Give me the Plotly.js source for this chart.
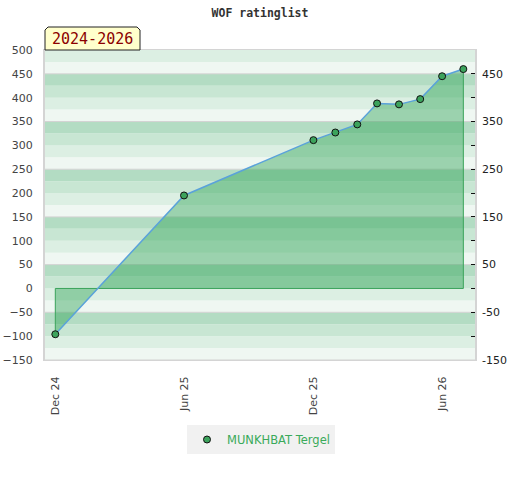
<!DOCTYPE html>
<html>
<head>
<meta charset="utf-8">
<script src="https://cdn.plot.ly/plotly-3.0.1.min.js"></script>
<style>html,body{margin:0;padding:0;background:#fff;}#chart{width:520px;height:480px;}</style>
</head>
<body>
<div id="chart"></div>
<script>
// ---- data ----
const dates = ['2024-12-01','2025-06-01','2025-12-01','2026-01-01','2026-02-01','2026-03-01','2026-04-01','2026-05-01','2026-06-01','2026-07-01'];
const values = [-96, 195, 311, 327, 344, 388, 386, 397, 445, 460];
const playerName = 'MUNKHBAT Tergel';
const chartTitle = 'WOF ratinglist';
const periodLabel = '2024-2026';
const xTickVals = ['2024-12-01','2025-06-01','2025-12-01','2026-06-01'];
const xTickText = ['Dec 24','Jun 25','Dec 25','Jun 26'];
const leftTicks = [-150,-100,-50,0,50,100,150,200,250,300,350,400,450,500];
const rightTicks = [-150,-100,-50,0,50,100,150,200,250,300,350,400,450];
const rightLabels = ['-150','','-50','','50','','150','','250','','350','','450'];
const gridVals = [-150,-50,50,150,250,350,450];

// ---- layout helpers ----
const W = 520, H = 480, ML = 45, MR = 45, MT = 50, MB = 120;
const PW = W - ML - MR, PH = H - MT - MB;
const px = x => (x - ML) / PW;
const py = y => (H - MB - y) / PH;
const yMin = -150, yMax = 500;

const bandColors = ['#eff7f2', '#dcefe3', '#c8e6d3', '#b3dcc3'];
const shapes = [];
for (let j = 0, lo = yMin; lo < yMax; j++, lo += 25) {
  shapes.push({type:'rect', layer:'below', xref:'paper', yref:'y', x0:0, x1:1, y0:lo, y1:lo+25,
    fillcolor: bandColors[j % 4], line:{width:0}});
}
gridVals.forEach(v => shapes.push({type:'line', layer:'below', xref:'paper', yref:'y', x0:0, x1:1, y0:v, y1:v,
  line:{color:'#d2d2d2', width:1}}));

// period box with clipped top corners
const bx0 = 45, bx1 = 140, by0 = 27, by1 = 50, c = 3;
shapes.push({type:'path', layer:'above', xref:'paper', yref:'paper',
  path: `M ${px(bx0)} ${py(by1)} L ${px(bx0)} ${py(by0+c)} L ${px(bx0+c)} ${py(by0)} L ${px(bx1-c)} ${py(by0)} L ${px(bx1)} ${py(by0+c)} L ${px(bx1)} ${py(by1)} Z`,
  fillcolor:'#ffffcc', line:{color:'#222', width:1}});

const last = dates.length - 1;
const traces = [
  {x: dates, y: values, type:'scatter', mode:'lines', fill:'tozeroy',
   fillcolor:'rgba(44,162,83,0.43)', line:{width:0, color:'rgba(0,0,0,0)'},
   hoverinfo:'skip', showlegend:false},
  {x: [dates[0], dates[0], dates[last], dates[last]], y: [values[0], 0, 0, values[last]],
   type:'scatter', mode:'lines', line:{color:'#3aa35a', width:1}, hoverinfo:'skip', showlegend:false},
  {x: dates, y: values, type:'scatter', mode:'lines', line:{color:'#5aa2da', width:1.5},
   hoverinfo:'skip', showlegend:false},
  {x: dates, y: values, type:'scatter', mode:'markers', name: playerName,
   marker:{size:7, color:'#3ca35c', line:{color:'#111', width:1}}},
  {x: dates, y: values, type:'scatter', mode:'none', yaxis:'y2', hoverinfo:'skip', showlegend:false}
];

const layout = {
  width: W, height: H, autosize:false,
  margin:{l:ML, r:MR, t:MT, b:MB, pad:0},
  paper_bgcolor:'#fff', plot_bgcolor:'#fff',
  font:{family:'DejaVu Sans', size:11, color:'#444'},
  title:{text:'<b>'+chartTitle+'</b>', x:0.5, xanchor:'center', y:1-13/H, yanchor:'middle', yref:'container',
    font:{family:'DejaVu Sans Mono', size:11.5, color:'#333'}},
  showlegend:true,
  legend:{orientation:'h', x:(261-ML)/PW, xanchor:'center', y:-(425-(H-MB))/PH, yanchor:'top',
    itemwidth:30, bgcolor:'#f1f1f1', font:{family:'DejaVu Sans', size:11.5, color:'#3aaa5a'}},
  xaxis:{type:'date', range:['2024-11-16 10:00','2026-07-17 12:00'],
    tickmode:'array', tickvals:xTickVals, ticktext:xTickText, tickangle:-90,
    ticks:'', ticklabelstandoff:11, showgrid:false, zeroline:false,
    showline:true, linecolor:'#d4d4d4', linewidth:1, mirror:true,
    tickfont:{size:11, color:'#444'}},
  yaxis:{range:[yMin, yMax], tickmode:'array', tickvals:leftTicks, ticks:'', ticklabelstandoff:8,
    showgrid:false, zeroline:false, showline:true, linecolor:'#d4d4d4', linewidth:2, mirror:true,
    tickfont:{size:11, color:'#444'}},
  yaxis2:{range:[yMin, yMax], overlaying:'y', side:'right', tickmode:'array',
    tickvals:rightTicks, ticktext:rightLabels, ticks:'inside', ticklen:4, tickcolor:'#111', tickwidth:1,
    ticklabelstandoff:6, showgrid:false, zeroline:false, showline:false,
    tickfont:{size:11, color:'#222'}},
  shapes: shapes,
  annotations:[{xref:'paper', yref:'paper', x:px((bx0+bx1)/2), y:py((by0+by1)/2+0.5), text:periodLabel,
    showarrow:false, xanchor:'center', yanchor:'middle',
    font:{family:'DejaVu Sans Mono', size:15, color:'#8b0000'}}]
};

Plotly.newPlot('chart', traces, layout, {staticPlot:true, displayModeBar:false});
</script>
</body>
</html>
